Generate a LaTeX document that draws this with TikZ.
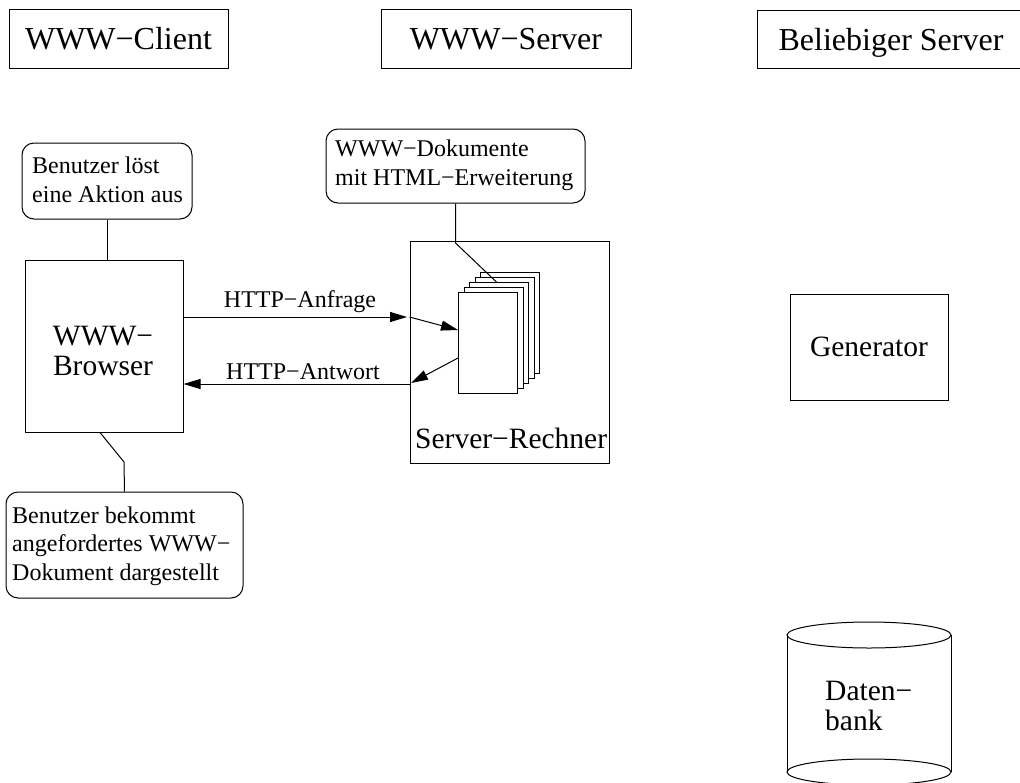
\documentclass[tikz,border=0pt]{standalone}
\usepackage{fontspec}
\setmainfont{Liberation Serif}
\usetikzlibrary{arrows.meta,calc}
\newcommand\hdrfnt{\fontsize{32}{36}\selectfont}
\newcommand\midfnt{\fontsize{29.5}{30}\selectfont}
\newcommand\smlfnt{\fontsize{24}{28.5}\selectfont}
\tikzset{
  shape box/.style={draw=black, line width=1pt, inner sep=0pt, rectangle},
  hdr/.style={shape box, font=\hdrfnt, text depth=0pt},
  rbox/.style={shape box, rounded corners=12pt},
  txt/.style={inner sep=0pt, align=left},
  conn/.style={draw=black, line width=1pt},
  arr/.style={conn, -{Triangle[length=17pt,width=10pt]}},
  page/.style={shape box, fill=white, minimum width=59pt, minimum height=101pt, anchor=north west},
}
\begin{document}
\begin{tikzpicture}[x=1pt,y=-1pt]
\clip (0,0) rectangle (1020,782);
\fill[white] (0,0) rectangle (1020,782);
% headers
\node[hdr, minimum width=219pt, minimum height=59pt] (client) at (118.5,38.5) {WWW−Client};
\node[hdr, minimum width=250pt, minimum height=59pt] (wserver) at (506,38.5) {WWW−Server};
\node[hdr, minimum width=268pt, minimum height=58pt] (anyserver) at (891,39) {Beliebiger Server};
% client side
\node[rbox, minimum width=170pt, minimum height=76pt] (action) at (107,181) {};
\node[txt, font=\smlfnt, anchor=base west] (actiontxt) at (32,202) {Benutzer löst\\eine Aktion aus};
\node[shape box, minimum width=158pt, minimum height=172pt] (browser) at (104,346) {};
\node[txt, align=center, font=\midfnt, anchor=base] (browsertxt) at (103,375) {WWW−\\Browser};
\node[rbox, minimum width=237pt, minimum height=106pt] (result) at (124.5,545) {};
\node[txt, font=\smlfnt, anchor=base west] (resulttxt) at (12,580) {Benutzer bekommt\\angefordertes WWW−\\Dokument dargestellt};
% server side
\node[rbox, minimum width=259pt, minimum height=74pt] (docs) at (455.5,166) {};
\node[txt, font=\smlfnt, anchor=base west] (docstxt) at (335,185) {WWW−Dokumente\\mit HTML−Erweiterung};
\node[shape box, minimum width=199pt, minimum height=222pt] (rechner) at (509.5,352) {};
\node[txt, font=\midfnt, anchor=base west] (rechnertxt) at (415,448) {Server−Rechner};
\node[page] (p4) at (480,272) {};
\node[page] (p3) at (475,277) {};
\node[page] (p2) at (469,282) {};
\node[page] (p1) at (463.5,287) {};
\node[page] (p0) at (458,292) {};
% beliebiger server
\node[shape box, minimum width=158pt, minimum height=106pt, font=\midfnt] (gen) at (869,347) {Generator};
\coordinate (dbtop) at (869,635);
\coordinate (dbbot) at (869,772);
\draw[conn] ($(dbtop)+(-82,0)$) -- ($(dbbot)+(-82,0)$);
\draw[conn] ($(dbtop)+(82,0)$) -- ($(dbbot)+(82,0)$);
\draw[conn] (dbtop) ellipse [x radius=82, y radius=13];
\draw[conn] (dbbot) ellipse [x radius=82, y radius=13];
\node[txt, font=\midfnt, anchor=base west] (dbtxt) at (825,730) {Daten−\\bank};
% connectors
\draw[conn] (action.south) -- (action.south |- browser.north);
\coordinate (bk) at (124,462);
\draw[conn] ([xshift=-4pt]browser.south) -- (bk) -- (result.north);
\coordinate (dk) at (455.5,243);
\draw[conn] (docs.south) -- (dk) -- ([xshift=-2.5pt]p2.north);
% HTTP
\coordinate (q1) at (407,317);
\coordinate (q2) at (411,383);
\draw[arr] (browser.east |- q1) -- (q1);
\draw[arr] (rechner.west |- q1) -- (p0.west |- 0,330);
\draw[arr] (p0.west |- 0,358) -- (q2);
\draw[arr] (rechner.west |- 0,384) -- (browser.east |- 0,384);
\node[txt, font=\smlfnt, anchor=base] (anfrage) at (300,307) {HTTP−Anfrage};
\node[txt, font=\smlfnt, anchor=base] (antwort) at (303,379) {HTTP−Antwort};
\end{tikzpicture}
\end{document}
